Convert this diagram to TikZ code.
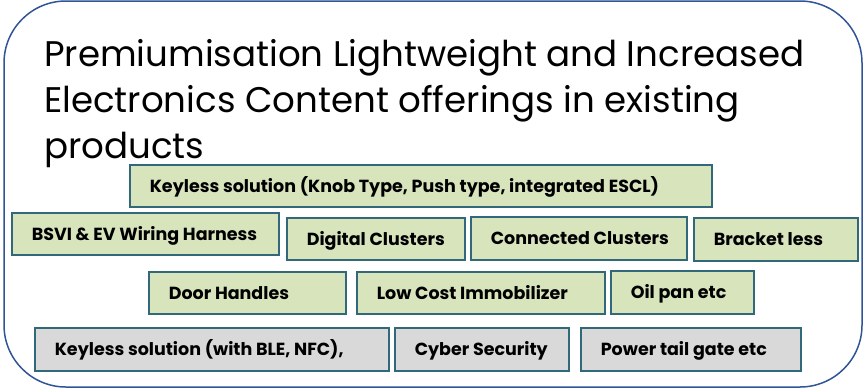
\documentclass[tikz,border=0pt]{standalone}
\usepackage{fontspec}
\setmainfont{Poppins}
\definecolor{outerblue}{HTML}{2F5597}
\definecolor{boxline}{HTML}{31697A}
\definecolor{greenfill}{HTML}{D8E4BC}
\definecolor{grayfill}{HTML}{D9D9D9}
\tikzset{
  itembox/.style={draw=boxline, line width=1.6pt, anchor=north west,
    inner xsep=20pt, inner ysep=0pt, text height=12.5pt, text depth=0pt,
    font=\fontsize{17.5}{19}\selectfont\bfseries},
  greenbox/.style={itembox, fill=greenfill},
  graybox/.style={itembox, fill=grayfill},
}
\newcommand{\ibox}[7]{% style, name, x1, y1, x2, y2, text
  \pgfmathsetmacro{\bw}{#5-#3-40}\pgfmathsetmacro{\bh}{#6-#4}%
  \node[#1, minimum height=\bh pt] (#2) at (#3,#4) {\makebox[\bw pt][l]{#7}};}
\begin{document}
\begin{tikzpicture}[x=1pt,y=-1pt]
\useasboundingbox (0,0) rectangle (864,389);
\draw[outerblue, line width=1.5pt, rounded corners=62pt] (4,1) rectangle (862,387);
\node[anchor=north west, inner sep=0pt, align=left, font=\fontsize{35.6}{46}\selectfont] (title) at (44,39)
  {Premiumisation Lightweight and Increased\\Electronics Content offerings in existing\\products};
\ibox{greenbox}{keyless}{129}{164}{711}{206}{Keyless solution (Knob Type, Push type, integrated ESCL)}
\ibox{greenbox}{bsvi}{11}{212}{278}{254}{BSVI \& EV Wiring Harness}
\ibox{greenbox}{digital}{286}{217}{464}{259}{Digital Clusters}
\ibox{greenbox}{connected}{470}{216}{686}{259}{Connected Clusters}
\ibox{greenbox}{bracket}{693}{217}{857}{260}{Bracket less}
\ibox{greenbox}{door}{148}{271}{345}{313}{Door Handles}
\ibox{greenbox}{immob}{356}{271}{604}{313}{Low Cost Immobilizer}
\ibox{greenbox}{oilpan}{610}{270}{753}{313}{Oil pan etc}
\ibox{graybox}{ble}{34}{327}{388}{370}{Keyless solution (with BLE, NFC),}
\ibox{graybox}{cyber}{394}{327}{568}{370}{Cyber Security}
\ibox{graybox}{tailgate}{580}{327}{800}{370}{Power tail gate etc}
\end{tikzpicture}
\end{document}
